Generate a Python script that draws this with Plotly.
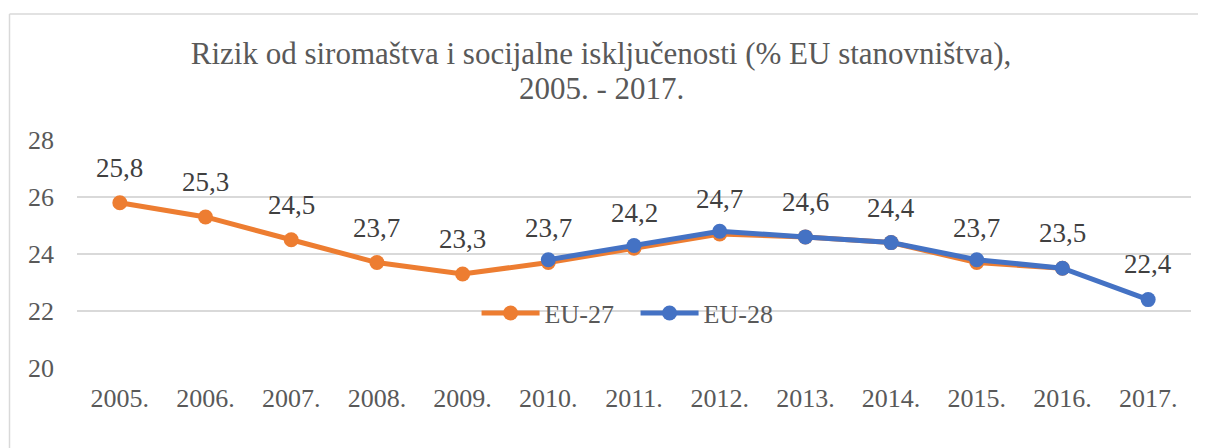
import plotly.graph_objects as go

years = [2005, 2006, 2007, 2008, 2009, 2010, 2011, 2012, 2013, 2014, 2015, 2016, 2017]
year_labels = ["2005.", "2006.", "2007.", "2008.", "2009.", "2010.", "2011.",
               "2012.", "2013.", "2014.", "2015.", "2016.", "2017."]
eu27_years = years[:12]
eu27 = [25.8, 25.3, 24.5, 23.7, 23.3, 23.7, 24.2, 24.7, 24.6, 24.4, 23.7, 23.5]
eu28_years = years[5:]
eu28 = [23.8, 24.3, 24.8, 24.6, 24.4, 23.8, 23.5, 22.4]

title_line1 = "Rizik od siromaštva i socijalne isključenosti (% EU stanovništva),"
title_line2 = "2005. - 2017."

ORANGE = "#ED7D31"
BLUE = "#4472C4"
W, H = 1206, 448
OFF = 8  # page body margin
ML, MR, MT, MB = 77 - OFF, 23, 140 - OFF, 88
SERIF = "Liberation Serif, Times New Roman, serif"
TITLE_COLOR = "#595959"

fig = go.Figure()
fig.add_trace(go.Scatter(x=eu27_years, y=eu27, name="EU-27", mode="lines+markers",
                         line=dict(color=ORANGE, width=5),
                         marker=dict(color=ORANGE, size=15)))
fig.add_trace(go.Scatter(x=eu28_years, y=eu28, name="EU-28", mode="lines+markers",
                         line=dict(color=BLUE, width=5),
                         marker=dict(color=BLUE, size=15)))

def fmt(v):
    return f"{v:.1f}".replace(".", ",")

annotations = []
for x, v in zip(eu27_years, eu27):
    annotations.append(dict(x=x, y=v, text=fmt(v), showarrow=False, yshift=35,
                            font=dict(family=SERIF, size=27, color="#404040")))
annotations.append(dict(x=eu28_years[-1], y=eu28[-1], text=fmt(eu28[-1]), showarrow=False,
                        yshift=36, font=dict(family=SERIF, size=27, color="#404040")))

pw = W - ML - MR
ph = H - MT - MB
def px2x(p):
    return (p - OFF - ML) / pw
def px2y(p):
    return (H - MB - (p - OFF)) / ph

annotations.append(dict(xref="paper", yref="paper", x=px2x(601), y=px2y(88),
                        xanchor="center", yanchor="middle", showarrow=False,
                        text=title_line2, font=dict(family=SERIF, size=31, color=TITLE_COLOR)))

shapes = [
    dict(type="line", xref="paper", yref="paper", x0=px2x(9.5), x1=px2x(9.5),
         y0=px2y(14), y1=px2y(H + 20), line=dict(color="#D9D9D9", width=1.5)),
    dict(type="line", xref="paper", yref="paper", x0=px2x(9.5), x1=px2x(W + 20),
         y0=px2y(14), y1=px2y(14), line=dict(color="#D9D9D9", width=1.5)),
]

fig.update_layout(
    width=W, height=H,
    margin=dict(l=ML, r=MR, t=MT, b=MB, autoexpand=False),
    paper_bgcolor="white", plot_bgcolor="white",
    title=dict(text=title_line1, x=(601 - OFF) / W, xref="container", xanchor="center",
               y=1 - (53 - OFF) / H, yref="container", yanchor="middle",
               font=dict(family=SERIF, size=31, color=TITLE_COLOR)),
    xaxis=dict(range=[years[0] - 0.5, years[-1] + 0.5], tickvals=years, ticktext=year_labels,
               showgrid=False, showline=False, zeroline=False,
               ticks="", ticklabelstandoff=12,
               tickfont=dict(family=SERIF, size=26, color="#595959")),
    yaxis=dict(range=[20, 28], dtick=2, showgrid=True, gridcolor="#D9D9D9", gridwidth=1.5,
               zeroline=False, showline=False, ticks="", ticklabelstandoff=22,
               tickfont=dict(family=SERIF, size=26, color="#595959")),
    legend=dict(orientation="h", x=0.5014, xanchor="center", y=0.241, yanchor="middle",
                entrywidth=86, entrywidthmode="pixels", itemwidth=58,
                bgcolor="rgba(0,0,0,0)", font=dict(family=SERIF, size=26, color="#595959")),
    annotations=annotations,
    shapes=shapes,
    showlegend=True,
)

fig.write_html("out.html")
